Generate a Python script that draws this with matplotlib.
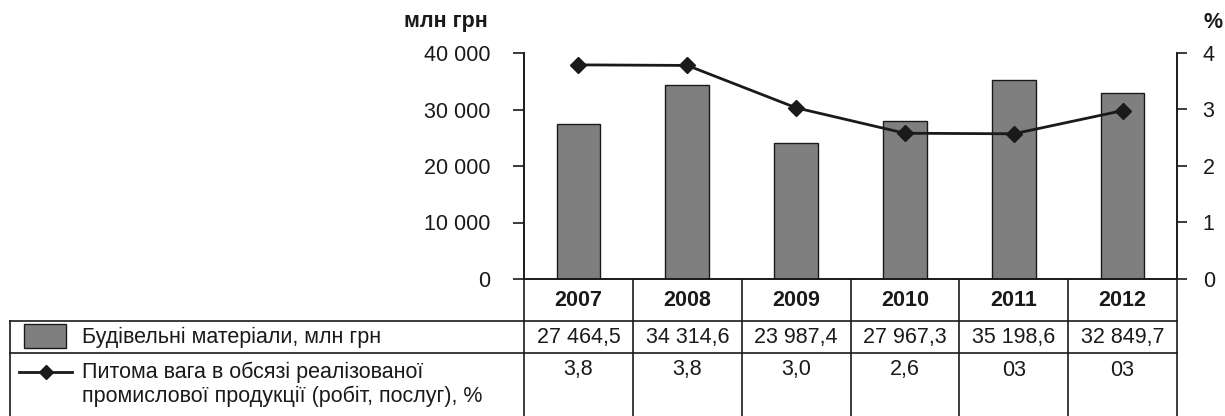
import numpy as np
import matplotlib
matplotlib.use("Agg")
from matplotlib import pyplot as plt
from matplotlib.patches import Rectangle

plt.rcParams['font.family'] = ['Liberation Sans Narrow', 'Liberation Sans', 'DejaVu Sans']

years = ['2007', '2008', '2009', '2010', '2011', '2012']
materials = [27464.5, 34314.6, 23987.4, 27967.3, 35198.6, 32849.7]
share = [3.79, 3.78, 3.03, 2.58, 2.57, 2.98]
share_labels = ['3,8', '3,8', '3,0', '2,6', '03', '03']
left_ticks = [0, 10000, 20000, 30000, 40000]
right_ticks = [0, 1, 2, 3, 4]
bar_label = 'Будівельні матеріали, млн грн'
line_label = 'Питома вага в обсязі реалізованої\nпромислової продукції (робіт, послуг), %'

# layout in pixels
W, H = 1225, 416
L, R = 524, 1177
TOP, ZERO = 53, 279
FS = 15.5
BAR_C = '#7f7f7f'
INK = '#1a1a1a'

fig = plt.figure(figsize=(W / 100, H / 100), dpi=100)

# table / legend layer in pixel coords
tb = fig.add_axes([0, 0, 1, 1])
tb.set_xlim(0, W)
tb.set_ylim(H, 0)
tb.axis('off')

ax = fig.add_axes([L / W, 1 - ZERO / H, (R - L) / W, (ZERO - TOP) / H])
x = np.arange(len(years))
ax.bar(x, materials, 0.4, color=BAR_C, edgecolor=INK, linewidth=1)
ax.set_xlim(-0.5, len(years) - 0.5)
ax.set_ylim(0, 40000)
ax.set_yticks(left_ticks)
ax.set_yticklabels([f"{t:,}".replace(',', ' ') for t in left_ticks])
ax.set_xticks([])
ax.spines['top'].set_visible(False)
for s in ['left', 'right', 'bottom']:
    ax.spines[s].set_linewidth(1.2)
    ax.spines[s].set_color(INK)
ax.tick_params(axis='y', direction='out', length=8, width=1.2, pad=16,
               labelsize=FS, colors=INK)
ax.patch.set_alpha(0)

ax2 = ax.twinx()
ax2.plot(x, share, color=INK, lw=2, marker='D', markersize=8)
ax2.set_ylim(0, 4)
ax2.set_yticks(right_ticks)
ax2.spines['top'].set_visible(False)
for s in ['left', 'right', 'bottom']:
    ax2.spines[s].set_linewidth(1.2)
    ax2.spines[s].set_color(INK)
ax2.tick_params(axis='y', direction='out', length=7.5, width=1.2, pad=11,
                labelsize=FS, colors=INK)

fig.text(488 / W, 1 - 22 / H, 'млн грн', ha='right', va='center',
         fontsize=FS, fontweight='bold', color=INK)
fig.text(1213 / W, 1 - 22 / H, '%', ha='center', va='center',
         fontsize=FS, fontweight='bold', color=INK)

# data table
colw = (R - L) / len(years)
ROW1, ROW2 = 321, 353
lw = 1.2
tb.plot([10, R], [ROW1, ROW1], color=INK, lw=lw)
tb.plot([10, R], [ROW2, ROW2], color=INK, lw=lw)
tb.plot([10, 10], [ROW1, H], color=INK, lw=lw)
for i in range(len(years) + 1):
    xc = L + i * colw
    tb.plot([xc, xc], [ZERO, H], color=INK, lw=lw)

for i, yr in enumerate(years):
    cx = L + (i + 0.5) * colw
    tb.text(cx, 300, yr, ha='center', va='center', fontsize=FS,
            fontweight='bold', color=INK)
    val = f"{materials[i]:,.1f}".replace(',', ' ').replace('.', ',')
    tb.text(cx, 337, val, ha='center', va='center', fontsize=FS, color=INK)
    tb.text(cx, 370, share_labels[i], ha='center', va='center', fontsize=FS,
            color=INK)

# legend keys
tb.add_patch(Rectangle((24, 324), 42, 24, facecolor=BAR_C, edgecolor=INK, lw=1))
tb.plot([19, 45.5, 72], [372, 372, 372], color=INK, lw=2, marker='D',
        markersize=7, markevery=[1])
tb.text(82, 337, bar_label, ha='left', va='center', fontsize=FS, color=INK)
tb.text(82, 384, line_label, ha='left', va='center', fontsize=FS, color=INK,
        linespacing=1.15)

fig.savefig('out.png', dpi=100)
